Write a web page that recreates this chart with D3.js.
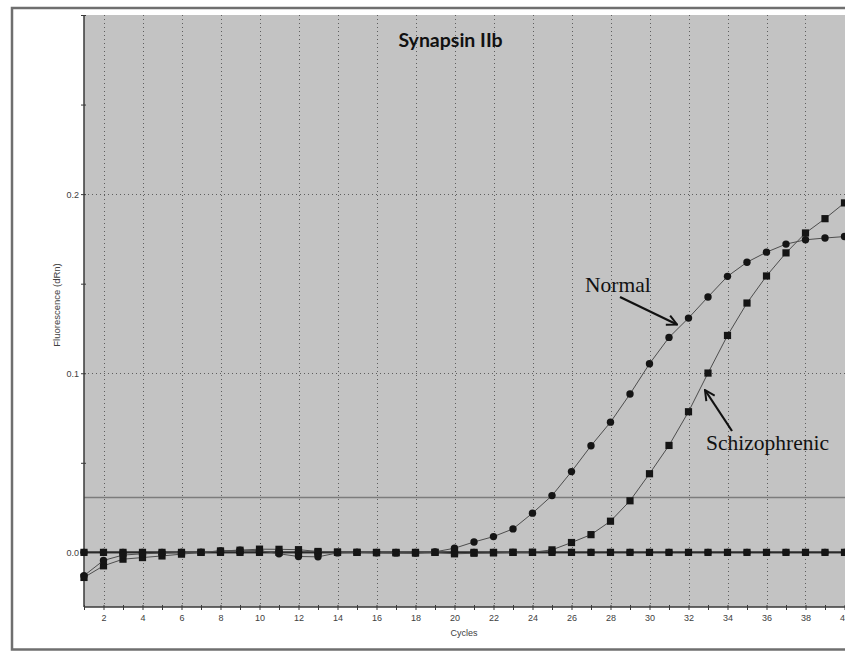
<!DOCTYPE html>
<html>
<head>
<meta charset="utf-8">
<script src="https://cdn.jsdelivr.net/npm/d3@7"></script>
<style>
  html, body { margin: 0; padding: 0; background: #ffffff; }
  svg { display: block; }
  .tick text { font-family: "Liberation Sans", Arial, sans-serif; }
</style>
</head>
<body>
<svg id="chart" width="845" height="651"></svg>
<script>
// Amplification cycles
const cycles = [1, 2, 3, 4, 5, 6, 7, 8, 9, 10, 11, 12, 13, 14, 15, 16, 17, 18, 19, 20,
                21, 22, 23, 24, 25, 26, 27, 28, 29, 30, 31, 32, 33, 34, 35, 36, 37, 38, 39, 40];

// Fluorescence (dRn) per cycle
const normal = [-0.0130, -0.0045, -0.0015, -0.0008, -0.0004, 0.0000, 0.0000, 0.0008, 0.0012, 0.0010,
                -0.0008, -0.0023, -0.0025, -0.0003, 0.0000, -0.0002, -0.0003, -0.0004, 0.0003, 0.0023,
                0.0058, 0.0088, 0.0131, 0.0219, 0.0317, 0.0451, 0.0595, 0.0727, 0.0884, 0.1053,
                0.1200, 0.1308, 0.1426, 0.1541, 0.1620, 0.1676, 0.1721, 0.1745, 0.1755, 0.1763];

const schizophrenic = [-0.0140, -0.0075, -0.0038, -0.0029, -0.0020, -0.0010, 0.0000, 0.0008, 0.0012, 0.0018,
                       0.0017, 0.0015, 0.0005, 0.0002, 0.0000, -0.0002, -0.0003, -0.0004, 0.0000, -0.0008,
                       -0.0005, -0.0003, 0.0000, 0.0000, 0.0014, 0.0055, 0.0099, 0.0174, 0.0288, 0.0439,
                       0.0597, 0.0785, 0.1001, 0.1211, 0.1392, 0.1543, 0.1672, 0.1783, 0.1863, 0.1951];

// No-template controls
const ntcNormal = [0, 0, 0, 0, 0, 0, 0, 0, 0, 0, 0, 0, 0, 0, 0, 0, 0, 0, 0, 0,
                   0, 0, 0, 0, 0, 0, 0, 0, 0, 0, 0, 0, 0, 0, 0, 0, 0, 0, 0, 0];
const ntcSchizophrenic = [0, 0, 0, 0, 0, 0, 0, 0, 0, 0, 0, 0, 0, 0, 0, 0, 0, 0, 0, 0,
                          0, 0, 0, 0, 0, 0, 0, 0, 0, 0, 0, 0, 0, 0, 0, 0, 0, 0, 0, 0];

const threshold = 0.0306;

const yTicks = [0, 0.05, 0.1, 0.15, 0.2, 0.25, 0.3];
const yLabelled = [0, 0.1, 0.2];
const yGrid = [0.1, 0.2];
const xLabelled = [2, 4, 6, 8, 10, 12, 14, 16, 18, 20, 22, 24, 26, 28, 30, 32, 34, 36, 38, 40];

const svg = d3.select("#chart");

const plot = { left: 84, top: 15, right: 844.5, bottom: 607 };

const x = d3.scaleLinear().domain([1, 40]).range([plot.left, plot.right]);
const y = d3.scaleLinear().domain([-0.0305, 0.3]).range([plot.bottom, plot.top]);

// outer window frame
svg.append("rect")
  .attr("x", 12).attr("y", 8)
  .attr("width", 860).attr("height", 641.5)
  .attr("fill", "#ffffff")
  .attr("stroke", "#6f6f6f")
  .attr("stroke-width", 2.5);

// plot background
svg.append("rect")
  .attr("x", plot.left).attr("y", plot.top)
  .attr("width", 900 - plot.left).attr("height", plot.bottom - plot.top)
  .attr("fill", "#c3c3c3");

// dotted grid
const grid = svg.append("g").attr("stroke", "#5e5e5e").attr("stroke-width", 1)
  .attr("stroke-dasharray", "1,3");
grid.selectAll("line.v").data(xLabelled).join("line")
  .attr("class", "v")
  .attr("x1", d => Math.round(x(d)) + 0.5).attr("x2", d => Math.round(x(d)) + 0.5)
  .attr("y1", plot.top).attr("y2", plot.bottom);
grid.selectAll("line.h").data(yGrid).join("line")
  .attr("class", "h")
  .attr("x1", plot.left).attr("x2", 900)
  .attr("y1", d => Math.round(y(d)) + 0.5).attr("y2", d => Math.round(y(d)) + 0.5);

// threshold line
svg.append("line")
  .attr("x1", plot.left).attr("x2", 900)
  .attr("y1", y(threshold)).attr("y2", y(threshold))
  .attr("stroke", "#7c7c7c").attr("stroke-width", 1.6);

// axes
const yAxis = d3.axisLeft(y)
  .tickValues(yTicks)
  .tickSize(3)
  .tickPadding(2)
  .tickFormat(d => yLabelled.includes(d) ? d3.format(".1f")(d) : "");
const gy = svg.append("g").attr("transform", `translate(${plot.left},0)`).call(yAxis);
gy.select(".domain").attr("stroke", "#3a3a3a").attr("stroke-width", 1.5)
  .attr("d", `M0,${plot.top}V${plot.bottom}`);
gy.selectAll(".tick line").attr("stroke", "#3a3a3a").attr("x2", -3).attr("x1", 2);
gy.selectAll(".tick text").attr("font-size", 9).attr("fill", "#404040");

const xAxis = d3.axisBottom(x)
  .tickValues(cycles)
  .tickSize(3)
  .tickPadding(5)
  .tickFormat(d => xLabelled.includes(d) ? d : "");
const gx = svg.append("g").attr("transform", `translate(0,${plot.bottom})`).call(xAxis);
gx.select(".domain").attr("stroke", "#3a3a3a").attr("stroke-width", 1.5)
  .attr("d", `M${plot.left},0H900`);
gx.selectAll(".tick line").attr("stroke", "#3a3a3a").attr("y1", -2).attr("y2", 3);
gx.selectAll(".tick text").attr("font-size", 9).attr("fill", "#404040");

// axis titles
svg.append("text")
  .attr("x", 464).attr("y", 636)
  .attr("text-anchor", "middle")
  .attr("font-family", "Liberation Sans, Arial, sans-serif")
  .attr("font-size", 9).attr("fill", "#404040")
  .text("Cycles");
svg.append("text")
  .attr("transform", "translate(60,305) rotate(-90)")
  .attr("text-anchor", "middle")
  .attr("font-family", "Liberation Sans, Arial, sans-serif")
  .attr("font-size", 9.5).attr("fill", "#404040")
  .text("Fluorescence (dRn)");

// series
const line = d3.line().x((d, i) => x(cycles[i])).y(d => y(d));

function drawSeries(values, shape, stroke, width) {
  svg.append("path")
    .datum(values)
    .attr("fill", "none")
    .attr("stroke", stroke)
    .attr("stroke-width", width)
    .attr("d", line);
  const g = svg.append("g").attr("fill", "#151515");
  if (shape === "circle") {
    g.selectAll("circle").data(values).join("circle")
      .attr("cx", (d, i) => x(cycles[i]))
      .attr("cy", d => y(d))
      .attr("r", 3.7);
  } else {
    g.selectAll("rect").data(values).join("rect")
      .attr("x", (d, i) => x(cycles[i]) - 3.6)
      .attr("y", d => y(d) - 3.6)
      .attr("width", 7.2).attr("height", 7.2);
  }
}

drawSeries(ntcSchizophrenic, "square", "#2a2a2a", 1.6);
drawSeries(ntcNormal, "circle", "#2a2a2a", 1.6);
drawSeries(schizophrenic, "square", "#4d4d4d", 1);
drawSeries(normal, "circle", "#4d4d4d", 1);

// title
svg.append("text")
  .attr("x", 450.5).attr("y", 47)
  .attr("text-anchor", "middle")
  .attr("font-family", "Lato, 'Open Sans', sans-serif")
  .attr("font-weight", "bold")
  .attr("font-size", 19.5)
  .attr("fill", "#111")
  .text("Synapsin IIb");

// annotations with arrows
const defs = svg.append("defs");
defs.append("marker")
  .attr("id", "arrow")
  .attr("viewBox", "0 0 12 12")
  .attr("refX", 11).attr("refY", 6)
  .attr("markerWidth", 12).attr("markerHeight", 12)
  .attr("markerUnits", "userSpaceOnUse")
  .attr("orient", "auto")
  .append("path")
  .attr("d", "M1,1 L11,6 L1,11")
  .attr("fill", "none")
  .attr("stroke", "#111")
  .attr("stroke-width", 2);

const notes = [
  { text: "Normal", tx: 585, ty: 291.5, x1: 620, y1: 297, x2: 677, y2: 324.5 },
  { text: "Schizophrenic", tx: 706, ty: 449.5, x1: 732, y1: 431, x2: 705, y2: 390 }
];
notes.forEach(n => {
  svg.append("text")
    .attr("x", n.tx).attr("y", n.ty)
    .attr("font-family", "Liberation Serif, 'Times New Roman', serif")
    .attr("font-size", 21.5)
    .attr("fill", "#111")
    .text(n.text);
  svg.append("line")
    .attr("x1", n.x1).attr("y1", n.y1)
    .attr("x2", n.x2).attr("y2", n.y2)
    .attr("stroke", "#111").attr("stroke-width", 2.2)
    .attr("marker-end", "url(#arrow)");
});
</script>
</body>
</html>
